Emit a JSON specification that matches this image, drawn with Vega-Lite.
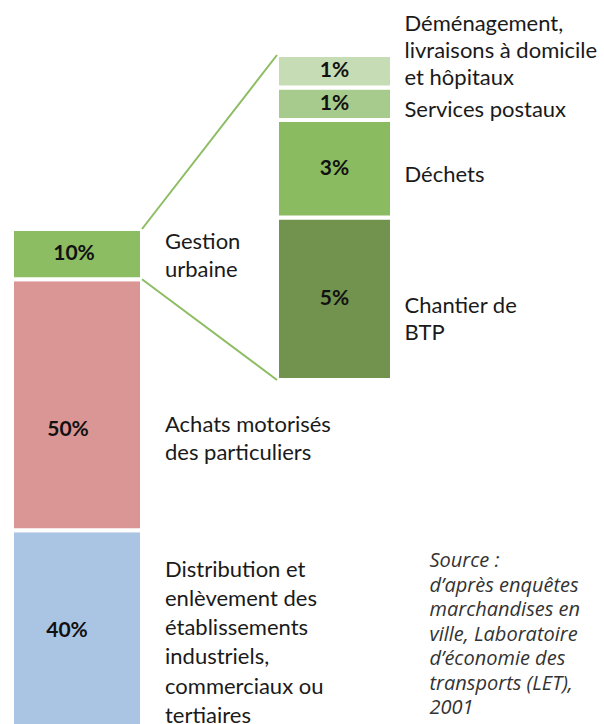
{
  "$schema": "https://vega.github.io/schema/vega-lite/v6.json",
  "width": 604,
  "height": 724,
  "autosize": {"type": "none"},
  "padding": 0,
  "background": "white",
  "config": {"view": {"stroke": null}},
  "data": {
    "values": [
      {"col": "Ensemble", "cat": "Distribution", "label": "Distribution et\nenlèvement des\nétablissements\nindustriels,\ncommerciaux ou\ntertiaires", "share": 0.40, "ord": 1},
      {"col": "Ensemble", "cat": "Achats", "label": "Achats motorisés\ndes particuliers", "share": 0.50, "ord": 2},
      {"col": "Ensemble", "cat": "Gestion urbaine", "label": "Gestion\nurbaine", "share": 0.10, "ord": 3},
      {"col": "Gestion urbaine", "cat": "Chantier", "label": "Chantier de\nBTP", "share": 0.05, "ord": 1},
      {"col": "Gestion urbaine", "cat": "Déchets", "label": "Déchets", "share": 0.03, "ord": 2},
      {"col": "Gestion urbaine", "cat": "Services postaux", "label": "Services postaux", "share": 0.01, "ord": 3},
      {"col": "Gestion urbaine", "cat": "Déménagement", "label": "Déménagement,\nlivraisons à domicile\net hôpitaux", "share": 0.01, "ord": 4}
    ]
  },
  "layer": [
    {
      "name": "left",
      "transform": [
        {"filter": "datum.col === 'Ensemble'"},
        {"stack": "share", "groupby": ["col"], "sort": [{"field": "ord", "order": "ascending"}], "as": ["v0", "v1"]}
      ],
      "layer": [
        {
          "mark": {"type": "bar", "stroke": "white", "strokeWidth": 4, "clip": true},
          "encoding": {
            "x": {"field": "col", "type": "nominal", "scale": {"domain": ["Ensemble", "Gestion urbaine"], "paddingInner": 0.49515, "paddingOuter": 0.42039, "align": 0.05543}, "axis": null},
            "y": {"field": "v0", "type": "quantitative", "scale": {"domain": [0.0139, 1.4562], "zero": false, "nice": false}, "axis": null},
            "y2": {"field": "v1"},
            "color": {"field": "cat", "type": "nominal", "legend": null, "scale": {"domain": ["Distribution", "Achats", "Gestion urbaine", "Chantier", "Déchets", "Services postaux", "Déménagement"], "range": ["#aac4e3", "#d99694", "#8cbd62", "#72934e", "#8bbb60", "#a7cb8c", "#c6dcb5"]}}
          }
        },
        {
          "transform": [
            {"filter": "datum.cat === 'Gestion urbaine'"},
            {"fold": ["v0", "v1"], "as": ["edge", "v"]},
            {"aggregate": [{"op": "mean", "field": "v", "as": "mid"}], "groupby": ["col", "cat", "label", "share"]}
          ],
          "mark": {"type": "text", "font": "Lato", "fontWeight": "bold", "fontSize": 21, "color": "#111111", "align": "center", "baseline": "middle", "dx": -3},
          "encoding": {
            "x": {"field": "col", "type": "nominal", "bandPosition": 0.5, "scale": {"domain": ["Ensemble", "Gestion urbaine"], "paddingInner": 0.49515, "paddingOuter": 0.42039, "align": 0.05543}, "axis": null},
            "y": {"field": "mid", "type": "quantitative", "scale": {"domain": [0.0139, 1.4562], "zero": false, "nice": false}, "axis": null},
            "text": {"field": "share", "type": "quantitative", "format": ".0%"}
          }
        },
        {
          "transform": [
            {"filter": "datum.cat === 'Achats'"},
            {"fold": ["v0", "v1"], "as": ["edge", "v"]},
            {"aggregate": [{"op": "mean", "field": "v", "as": "mid"}], "groupby": ["col", "cat", "label", "share"]}
          ],
          "mark": {"type": "text", "font": "Lato", "fontWeight": "bold", "fontSize": 21, "color": "#111111", "align": "center", "baseline": "middle", "dx": -9, "dy": 25},
          "encoding": {
            "x": {"field": "col", "type": "nominal", "bandPosition": 0.5, "scale": {"domain": ["Ensemble", "Gestion urbaine"], "paddingInner": 0.49515, "paddingOuter": 0.42039, "align": 0.05543}, "axis": null},
            "y": {"field": "mid", "type": "quantitative", "scale": {"domain": [0.0139, 1.4562], "zero": false, "nice": false}, "axis": null},
            "text": {"field": "share", "type": "quantitative", "format": ".0%"}
          }
        },
        {
          "transform": [
            {"filter": "datum.cat === 'Distribution'"},
            {"fold": ["v0", "v1"], "as": ["edge", "v"]},
            {"aggregate": [{"op": "mean", "field": "v", "as": "mid"}], "groupby": ["col", "cat", "label", "share"]}
          ],
          "mark": {"type": "text", "font": "Lato", "fontWeight": "bold", "fontSize": 21, "color": "#111111", "align": "center", "baseline": "middle", "dx": -10},
          "encoding": {
            "x": {"field": "col", "type": "nominal", "bandPosition": 0.5, "scale": {"domain": ["Ensemble", "Gestion urbaine"], "paddingInner": 0.49515, "paddingOuter": 0.42039, "align": 0.05543}, "axis": null},
            "y": {"field": "mid", "type": "quantitative", "scale": {"domain": [0.0139, 1.4562], "zero": false, "nice": false}, "axis": null},
            "text": {"field": "share", "type": "quantitative", "format": ".0%"}
          }
        },
        {
          "transform": [
            {"filter": "datum.cat === 'Gestion urbaine'"},
            {"fold": ["v0", "v1"], "as": ["edge", "v"]},
            {"aggregate": [{"op": "mean", "field": "v", "as": "mid"}], "groupby": ["col", "cat", "label", "share"]}
          ],
          "mark": {"type": "text", "font": "Lato", "fontSize": 22, "lineHeight": 28, "lineBreak": "\n", "color": "#1a1a1a", "align": "left", "baseline": "middle", "dx": 23, "dy": -12},
          "encoding": {
            "x": {"field": "col", "type": "nominal", "bandPosition": 1, "scale": {"domain": ["Ensemble", "Gestion urbaine"], "paddingInner": 0.49515, "paddingOuter": 0.42039, "align": 0.05543}, "axis": null},
            "y": {"field": "mid", "type": "quantitative", "scale": {"domain": [0.0139, 1.4562], "zero": false, "nice": false}, "axis": null},
            "text": {"field": "label"}
          }
        },
        {
          "transform": [
            {"filter": "datum.cat === 'Achats'"},
            {"fold": ["v0", "v1"], "as": ["edge", "v"]},
            {"aggregate": [{"op": "mean", "field": "v", "as": "mid"}], "groupby": ["col", "cat", "label", "share"]}
          ],
          "mark": {"type": "text", "font": "Lato", "fontSize": 22, "lineHeight": 28, "lineBreak": "\n", "color": "#1a1a1a", "align": "left", "baseline": "middle", "dx": 23, "dy": 20},
          "encoding": {
            "x": {"field": "col", "type": "nominal", "bandPosition": 1, "scale": {"domain": ["Ensemble", "Gestion urbaine"], "paddingInner": 0.49515, "paddingOuter": 0.42039, "align": 0.05543}, "axis": null},
            "y": {"field": "mid", "type": "quantitative", "scale": {"domain": [0.0139, 1.4562], "zero": false, "nice": false}, "axis": null},
            "text": {"field": "label"}
          }
        },
        {
          "transform": [
            {"filter": "datum.cat === 'Distribution'"},
            {"fold": ["v0", "v1"], "as": ["edge", "v"]},
            {"aggregate": [{"op": "mean", "field": "v", "as": "mid"}], "groupby": ["col", "cat", "label", "share"]}
          ],
          "mark": {"type": "text", "font": "Lato", "fontSize": 22, "lineHeight": 29.3, "lineBreak": "\n", "color": "#1a1a1a", "align": "left", "baseline": "middle", "dx": 23, "dy": -61},
          "encoding": {
            "x": {"field": "col", "type": "nominal", "bandPosition": 1, "scale": {"domain": ["Ensemble", "Gestion urbaine"], "paddingInner": 0.49515, "paddingOuter": 0.42039, "align": 0.05543}, "axis": null},
            "y": {"field": "mid", "type": "quantitative", "scale": {"domain": [0.0139, 1.4562], "zero": false, "nice": false}, "axis": null},
            "text": {"field": "label"}
          }
        }
      ]
    },
    {
      "name": "right",
      "transform": [
        {"filter": "datum.col === 'Gestion urbaine'"},
        {"stack": "share", "groupby": ["col"], "sort": [{"field": "ord", "order": "ascending"}], "as": ["v0", "v1"]}
      ],
      "layer": [
        {
          "mark": {"type": "bar", "stroke": "white", "strokeWidth": 4, "width": {"band": 0.8846}},
          "encoding": {
            "x": {"field": "col", "type": "nominal", "scale": {"domain": ["Ensemble", "Gestion urbaine"], "paddingInner": 0.49515, "paddingOuter": 0.42039, "align": 0.05543}, "axis": null},
            "y": {"field": "v0", "type": "quantitative", "scale": {"domain": [-0.10585, 0.11692], "zero": false, "nice": false}, "axis": null},
            "y2": {"field": "v1"},
            "color": {"field": "cat", "type": "nominal", "legend": null, "scale": {"domain": ["Distribution", "Achats", "Gestion urbaine", "Chantier", "Déchets", "Services postaux", "Déménagement"], "range": ["#aac4e3", "#d99694", "#8cbd62", "#72934e", "#8bbb60", "#a7cb8c", "#c6dcb5"]}}
          }
        },
        {
          "transform": [
            {"fold": ["v0", "v1"], "as": ["edge", "v"]},
            {"aggregate": [{"op": "mean", "field": "v", "as": "mid"}], "groupby": ["col", "cat", "label", "share"]}
          ],
          "mark": {"type": "text", "font": "Lato", "fontWeight": "bold", "fontSize": 21, "color": "#111111", "align": "center", "baseline": "middle"},
          "encoding": {
            "x": {"field": "col", "type": "nominal", "bandPosition": 0.5, "scale": {"domain": ["Ensemble", "Gestion urbaine"], "paddingInner": 0.49515, "paddingOuter": 0.42039, "align": 0.05543}, "axis": null},
            "y": {"field": "mid", "type": "quantitative", "scale": {"domain": [-0.10585, 0.11692], "zero": false, "nice": false}, "axis": null},
            "text": {"field": "share", "type": "quantitative", "format": ".0%"}
          }
        },
        {
          "transform": [
            {"filter": "datum.cat === 'Déménagement'"},
            {"fold": ["v0", "v1"], "as": ["edge", "v"]},
            {"aggregate": [{"op": "mean", "field": "v", "as": "mid"}], "groupby": ["col", "cat", "label", "share"]}
          ],
          "mark": {"type": "text", "font": "Lato", "fontSize": 22, "lineHeight": 27, "lineBreak": "\n", "color": "#1a1a1a", "align": "left", "baseline": "middle", "dx": 5, "dy": -47},
          "encoding": {
            "x": {"field": "col", "type": "nominal", "bandPosition": 1, "scale": {"domain": ["Ensemble", "Gestion urbaine"], "paddingInner": 0.49515, "paddingOuter": 0.42039, "align": 0.05543}, "axis": null},
            "y": {"field": "mid", "type": "quantitative", "scale": {"domain": [-0.10585, 0.11692], "zero": false, "nice": false}, "axis": null},
            "text": {"field": "label"}
          }
        },
        {
          "transform": [
            {"filter": "datum.cat === 'Services postaux' || datum.cat === 'Déchets'"},
            {"fold": ["v0", "v1"], "as": ["edge", "v"]},
            {"aggregate": [{"op": "mean", "field": "v", "as": "mid"}], "groupby": ["col", "cat", "label", "share"]}
          ],
          "mark": {"type": "text", "font": "Lato", "fontSize": 22, "lineHeight": 27, "lineBreak": "\n", "color": "#1a1a1a", "align": "left", "baseline": "middle", "dx": 5, "dy": 6},
          "encoding": {
            "x": {"field": "col", "type": "nominal", "bandPosition": 1, "scale": {"domain": ["Ensemble", "Gestion urbaine"], "paddingInner": 0.49515, "paddingOuter": 0.42039, "align": 0.05543}, "axis": null},
            "y": {"field": "mid", "type": "quantitative", "scale": {"domain": [-0.10585, 0.11692], "zero": false, "nice": false}, "axis": null},
            "text": {"field": "label"}
          }
        },
        {
          "transform": [
            {"filter": "datum.cat === 'Chantier'"},
            {"fold": ["v0", "v1"], "as": ["edge", "v"]},
            {"aggregate": [{"op": "mean", "field": "v", "as": "mid"}], "groupby": ["col", "cat", "label", "share"]}
          ],
          "mark": {"type": "text", "font": "Lato", "fontSize": 22, "lineHeight": 27, "lineBreak": "\n", "color": "#1a1a1a", "align": "left", "baseline": "middle", "dx": 5, "dy": 7},
          "encoding": {
            "x": {"field": "col", "type": "nominal", "bandPosition": 1, "scale": {"domain": ["Ensemble", "Gestion urbaine"], "paddingInner": 0.49515, "paddingOuter": 0.42039, "align": 0.05543}, "axis": null},
            "y": {"field": "mid", "type": "quantitative", "scale": {"domain": [-0.10585, 0.11692], "zero": false, "nice": false}, "axis": null},
            "text": {"field": "label"}
          }
        }
      ]
    },
    {
      "data": {
        "values": [
          {"fromCol": "Ensemble", "toCol": "Gestion urbaine", "from": 1.0, "to": 0.10},
          {"fromCol": "Ensemble", "toCol": "Gestion urbaine", "from": 0.9, "to": 0.0}
        ]
      },
      "mark": {"type": "rule", "color": "#8cbd62", "strokeWidth": 2},
      "encoding": {
        "x": {"field": "fromCol", "type": "nominal", "bandPosition": 1, "scale": {"domain": ["Ensemble", "Gestion urbaine"], "paddingInner": 0.49515, "paddingOuter": 0.42039, "align": 0.05543}, "axis": null},
        "x2": {"value": {"expr": "scale('x', datum.toCol) + bandwidth('x') * 0.0577"}},
        "y": {"value": {"expr": "scale('left_y', datum.from)"}},
        "y2": {"value": {"expr": "scale('right_y', datum.to)"}}
      }
    },
    {
      "data": {
        "values": [
          {"col": "Gestion urbaine", "note": "Source :\nd’après enquêtes\nmarchandises en\nville, Laboratoire\nd’économie des\ntransports (LET),\n2001"}
        ]
      },
      "mark": {"type": "text", "font": "Open Sans", "fontStyle": "italic", "fontSize": 20, "lineHeight": 24.5, "lineBreak": "\n", "color": "#333333", "align": "left", "baseline": "alphabetic", "dx": 30, "dy": -157},
      "encoding": {
        "x": {"field": "col", "type": "nominal", "bandPosition": 1, "scale": {"domain": ["Ensemble", "Gestion urbaine"], "paddingInner": 0.49515, "paddingOuter": 0.42039, "align": 0.05543}, "axis": null},
        "y": {"value": "height"},
        "text": {"field": "note"}
      }
    }
  ],
  "resolve": {"scale": {"y": "independent"}}
}
